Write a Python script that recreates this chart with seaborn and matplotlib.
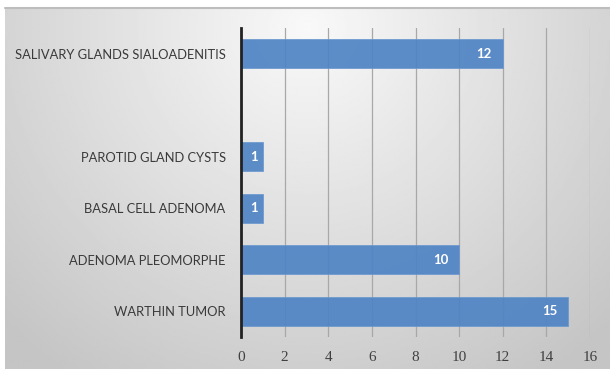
import numpy as np
import pandas as pd
import matplotlib
matplotlib.use("Agg")
import matplotlib.pyplot as plt
import seaborn as sns

# Diagnoses (top to bottom) and case counts
categories = ["SALIVARY GLANDS SIALOADENITIS", "PAROTID GLAND CYSTS",
              "BASAL CELL ADENOMA", "ADENOMA PLEOMORPHE", "WARTHIN TUMOR"]
counts = [12, 1, 1, 10, 15]
# Row order, including an empty row between the first and second diagnosis
row_order = ["SALIVARY GLANDS SIALOADENITIS", " ", "PAROTID GLAND CYSTS",
             "BASAL CELL ADENOMA", "ADENOMA PLEOMORPHE", "WARTHIN TUMOR"]
x_ticks = [0, 2, 4, 6, 8, 10, 12, 14, 16]

df = pd.DataFrame({"diagnosis": categories, "cases": counts})

sns.set_theme(style="white")
plt.rcParams["font.family"] = ["Lato", "DejaVu Sans"]

W, H = 610, 369
fig = plt.figure(figsize=(W / 100, H / 100), dpi=100, facecolor="white")

# Gray gradient panel behind the chart
bg = fig.add_axes([5 / W, 0, 1 - 5 / W, 1 - 8 / H])
bg.set_axis_off()
yy, xx = np.mgrid[0:1:200j, 0:1:300j]
r = np.sqrt(((xx - 0.5) / 0.7) ** 2 + ((yy - 0.05) / 1.15) ** 2)
shade = np.clip(0.975 - 0.2 * r, 0.77, 0.975)
bg.imshow(shade, cmap="gray", vmin=0, vmax=1, aspect="auto",
          extent=[0, 1, 0, 1], origin="upper")
bg.plot([0, 1], [1, 1], color="#bdbdbd", lw=1.5, transform=bg.transAxes, clip_on=False)

left, right = 241 / W, 590 / W
top, bottom = 28 / H, 337 / H
ax = fig.add_axes([left, 1 - bottom, right - left, bottom - top])
ax.patch.set_alpha(0)

sns.barplot(data=df, y="diagnosis", x="cases", order=row_order, orient="h",
            color="#4f84c4", saturation=1, width=0.57, edgecolor="#6b98cf",
            linewidth=0.6, alpha=0.92, ax=ax, zorder=3)

# Value labels, right-aligned just inside the end of each bar
for name, v in zip(df["diagnosis"], df["cases"]):
    yi = row_order.index(name)
    gap = 11 if v >= 3 else 5
    ax.annotate(f"{v}", xy=(v, yi), xytext=(-gap, 0), textcoords="offset pixels",
                ha="right", va="center", color="white", fontweight="bold",
                fontsize=9.5, zorder=5)

ax.set_xlim(0, 16)
ax.set_ylim(5.5, -0.5)
ax.set_xticks(x_ticks)
ax.set_xticklabels([str(t) for t in x_ticks], family="Liberation Serif",
                   fontsize=11, color="#404040")
ax.tick_params(axis="x", length=0, pad=10)
ax.tick_params(axis="y", length=0, pad=11, labelsize=9.3, labelcolor="#3a3a3a")
ax.xaxis.grid(True, color="#a8a8a8", lw=0.9, zorder=0)
ax.set_axisbelow(True)
for s in ["top", "right", "bottom"]:
    ax.spines[s].set_visible(False)
ax.spines["left"].set_color("#222222")
ax.spines["left"].set_linewidth(2)
ax.spines["left"].set_zorder(4)
ax.set_xlabel("")
ax.set_ylabel("")

fig.savefig("out.png", dpi=100, facecolor="white")
